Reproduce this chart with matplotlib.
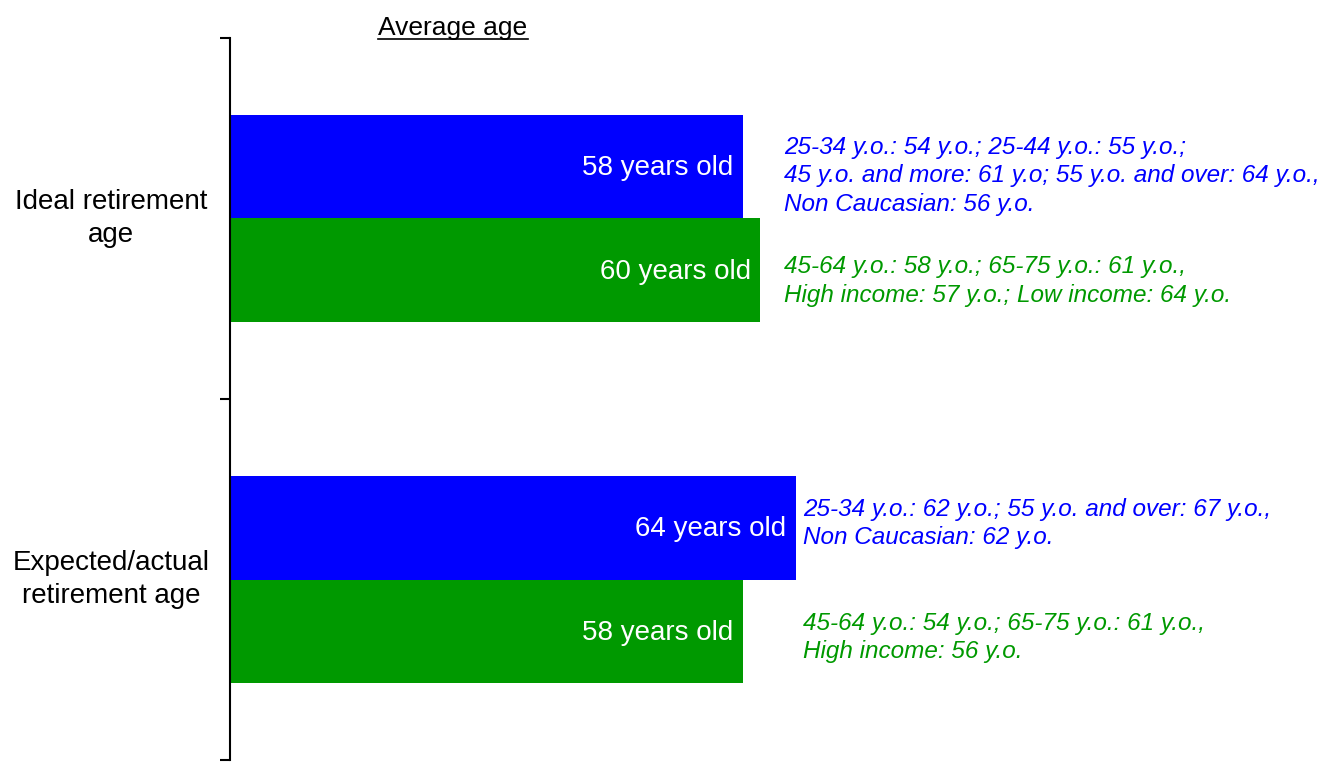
import matplotlib.pyplot as plt
import numpy as np

plt.rcParams['font.family'] = ['Liberation Sans', 'DejaVu Sans']

categories = ['Ideal retirement\nage', 'Expected/actual\nretirement age']
blue_vals = [58, 64]
green_vals = [60, 58]
blue_notes = [
    '25-34 y.o.: 54 y.o.; 25-44 y.o.: 55 y.o.;\n'
    '45 y.o. and more: 61 y.o; 55 y.o. and over: 64 y.o.,\n'
    'Non Caucasian: 56 y.o.',
    '25-34 y.o.: 62 y.o.; 55 y.o. and over: 67 y.o.,\n'
    'Non Caucasian: 62 y.o.',
]
green_notes = [
    '45-64 y.o.: 58 y.o.; 65-75 y.o.: 61 y.o.,\n'
    'High income: 57 y.o.; Low income: 64 y.o.',
    '45-64 y.o.: 54 y.o.; 65-75 y.o.: 61 y.o.,\n'
    'High income: 56 y.o.',
]

BLUE = '#0000ff'
GREEN = '#009900'

W, H = 1321, 766
fig = plt.figure(figsize=(W / 100, H / 100), dpi=100)
ax = fig.add_axes([230 / W, 6 / H, 1091 / W, 722 / H])

y = np.arange(len(categories)) + 0.5
bh = 0.288
ax.barh(y - bh / 2, blue_vals, height=bh, color=BLUE)
ax.barh(y + bh / 2, green_vals, height=bh, color=GREEN)

ax.set_xlim(0, 1091 / 8.84)
ax.set_ylim(2, 0)

for i in range(len(categories)):
    ax.text(blue_vals[i] - 1.1, y[i] - bh / 2 + 0.005, f'{blue_vals[i]} years old',
            color='white', fontsize=20, ha='right', va='center')
    ax.text(green_vals[i] - 1.1, y[i] + bh / 2 + 0.005, f'{green_vals[i]} years old',
            color='white', fontsize=20, ha='right', va='center')

# note positions (x in data units, y offsets in category units)
note_x = [62.7, 64.8]
blue_dy = [0.026, -0.012]
green_dy = [0.029, 0.016]
for i in range(len(categories)):
    ax.text(note_x[i], y[i] - bh / 2 + blue_dy[i], blue_notes[i], color=BLUE,
            fontsize=17.5, style='italic', ha='left', va='center', linespacing=1.29)
    ax.text(note_x[i], y[i] + bh / 2 + green_dy[i], green_notes[i], color=GREEN,
            fontsize=17.5, style='italic', ha='left', va='center', linespacing=1.29)

for i, c in enumerate(categories):
    ax.text(-119 / 8.84, y[i], c, fontsize=20, ha='center', va='center',
            multialignment='center', linespacing=1.37)

for s in ['top', 'right', 'bottom']:
    ax.spines[s].set_visible(False)
ax.spines['left'].set_linewidth(1.5)
ax.set_xticks([])
ax.set_yticks([0, 1, 2])
ax.set_yticklabels([])
ax.tick_params(axis='y', direction='out', length=7.5, width=1.5)

t = fig.text(453 / W, 1 - 28 / H, 'Average age', fontsize=19, ha='center', va='center')
fig.canvas.draw()
bb = t.get_window_extent().transformed(fig.transFigure.inverted())
fig.add_artist(plt.Line2D([bb.x0, bb.x1], [bb.y0 + 1.5 / H, bb.y0 + 1.5 / H],
                          transform=fig.transFigure, color='black', lw=1.2))

fig.savefig('out.png', dpi=100)
